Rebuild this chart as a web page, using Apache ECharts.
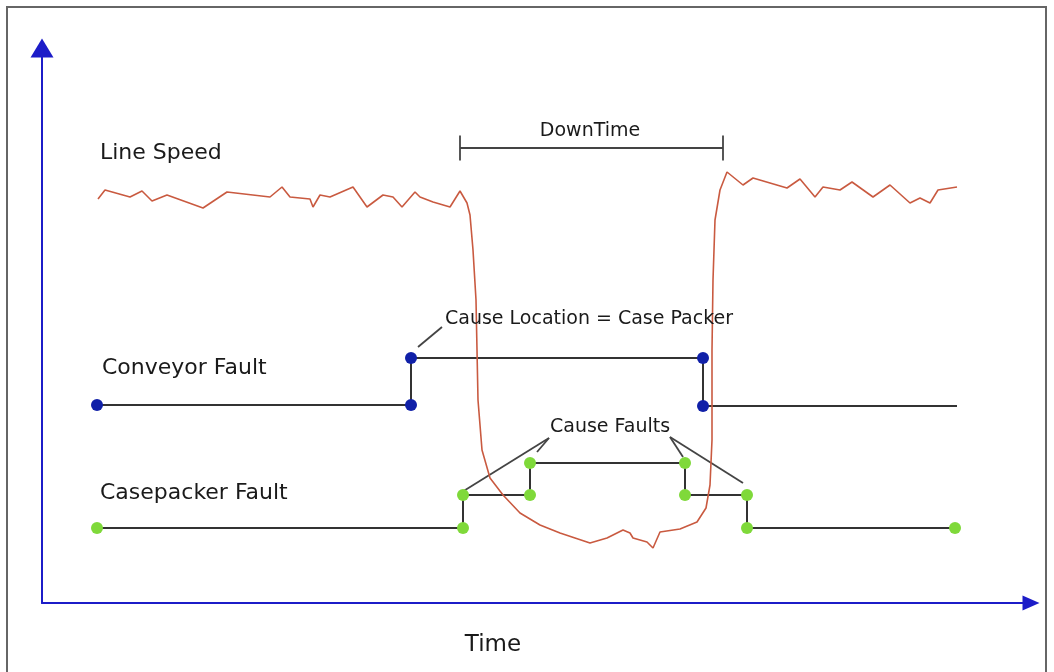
<!DOCTYPE html>
<html lang="en">
<head>
    <meta charset="UTF-8">
    <title>Line Speed / Faults</title>
    <script src="https://cdn.jsdelivr.net/npm/echarts@6/dist/echarts.min.js"></script>
    <style>
        * { padding: 0; margin: 0; }
        body { background: #fff; }
    </style>
</head>
<body>
<div id="chart" style="width: 1054px;height:672px;"></div>
<script>
    // time axis units, level axis units
    var speedTime  = [5.6, 6.3, 8.8, 10.0, 11.0, 12.5, 16.1, 18.5, 22.8, 24.0, 24.8, 26.8, 27.1, 27.8, 28.8, 31.1, 32.5, 34.1, 35.1, 36.0, 37.3, 37.8, 39.1, 40.8, 41.8, 42.5,
                      42.8, 43.1, 43.4, 43.6, 44.0, 44.8, 46.1, 47.8, 49.8, 51.8, 54.8, 56.5, 58.1, 58.8, 59.1, 60.5, 61.1, 61.8, 63.8, 65.5, 66.4, 66.8,
                      67.0, 67.0, 67.1, 67.3, 67.8, 68.5, 70.1, 71.1, 74.5, 75.8, 77.3, 78.1, 79.8, 81.0, 83.1, 84.8, 86.8, 87.8, 88.8, 89.6, 91.5];
    var speedLevel = [40.4, 41.3, 40.6, 41.2, 40.2, 40.8, 39.5, 41.1, 40.6, 41.6, 40.6, 40.4, 39.6, 40.8, 40.6, 41.6, 39.6, 40.8, 40.6, 39.6, 41.1, 40.6, 40.1, 39.6, 41.2, 40.0,
                      38.8, 35.3, 30.3, 20.3, 15.3, 12.5, 10.8, 9.0, 7.8, 7.0, 6.0, 6.5, 7.3, 7.0, 6.5, 6.1, 5.5, 7.1, 7.4, 8.1, 9.5, 11.8,
                      16.3, 25.3, 32.3, 38.3, 41.3, 43.1, 41.8, 42.5, 41.5, 42.4, 40.6, 41.6, 41.3, 42.1, 40.6, 41.8, 40.0, 40.5, 40.0, 41.3, 41.6];

    var conveyorTime  = [5.5, 36.9, 36.9, 66.1, 66.1, 91.5];
    var conveyorLevel = [19.8, 19.8, 24.5, 24.5, 19.7, 19.7];

    var casepackerTime  = [5.5, 42.1, 42.1, 48.8, 48.8, 64.3, 64.3, 70.5, 70.5, 91.3];
    var casepackerLevel = [7.5, 7.5, 10.8, 10.8, 14.0, 14.0, 10.8, 10.8, 7.5, 7.5];

    var noteText  = ['Line Speed', 'Conveyor Fault', 'Casepacker Fault', 'Time', 'DownTime', 'Cause Location = Case Packer', 'Cause Faults'];
    var noteTime  = [5.8, 6.0, 5.8, 45.1, 54.8, 40.3, 50.8];
    var noteLevel = [45.0, 23.5, 11.0, -4.2, 47.2, 28.4, 17.6];

    // [time1, level1, time2, level2]
    var leaderLines = [
        [37.6, 25.6, 40.0, 27.6],
        [42.0, 11.1, 50.7, 16.5],
        [49.5, 15.1, 50.7, 16.5],
        [64.1, 14.6, 62.8, 16.6],
        [70.1, 12.0, 62.8, 16.6]
    ];
    var downTimeStart = 41.8, downTimeEnd = 68.1, downTimeLevel = 45.5, downTimeTick = 1.25;

    var noteStyle = {
        'Line Speed': {size: 22, align: 'left'},
        'Conveyor Fault': {size: 22, align: 'left'},
        'Casepacker Fault': {size: 22, align: 'left'},
        'Time': {size: 23, align: 'center'},
        'DownTime': {size: 19, align: 'center'},
        'Cause Location = Case Packer': {size: 19, align: 'left'},
        'Cause Faults': {size: 19, align: 'left'}
    };

    var zip = function (a, b) { return a.map(function (v, i) { return [v, b[i]]; }); };

    var bracket = [
        [[downTimeStart, downTimeLevel], [downTimeEnd, downTimeLevel]],
        [[downTimeStart, downTimeLevel + downTimeTick], [downTimeStart, downTimeLevel - downTimeTick]],
        [[downTimeEnd, downTimeLevel + downTimeTick], [downTimeEnd, downTimeLevel - downTimeTick]]
    ];

    var axisBlue = '#1c1cc8';
    var chart = echarts.init(document.getElementById('chart'));
    var option = {
        animation: false,
        backgroundColor: '#fff',
        textStyle: {fontFamily: 'DejaVu Sans'},
        graphic: [{
            type: 'rect',
            shape: {x: 7, y: 7, width: 1039, height: 680},
            style: {fill: 'none', stroke: '#666', lineWidth: 2}
        }],
        grid: {left: 42, right: 23, top: 48, bottom: 69},
        xAxis: {
            type: 'value', min: 0, max: 98.9,
            axisLine: {show: true, onZero: false, symbol: ['none', 'triangle'], symbolSize: [15, 17], lineStyle: {color: axisBlue, width: 2}},
            axisTick: {show: false}, axisLabel: {show: false}, splitLine: {show: false}
        },
        yAxis: {
            type: 'value', min: 0, max: 55.5,
            axisLine: {show: true, onZero: false, symbol: ['none', 'triangle'], symbolSize: [23, 19], lineStyle: {color: axisBlue, width: 2}},
            axisTick: {show: false}, axisLabel: {show: false}, splitLine: {show: false}
        },
        series: [{
            name: 'Conveyor Fault',
            type: 'line',
            data: zip(conveyorTime, conveyorLevel).map(function (p, i) {
                return i === conveyorTime.length - 1 ? {value: p, symbol: 'none'} : p;
            }),
            symbol: 'circle', symbolSize: 12, showAllSymbol: true,
            lineStyle: {color: '#333', width: 2},
            itemStyle: {color: '#1020a8'},
            z: 3
        }, {
            name: 'Casepacker Fault',
            type: 'line',
            data: zip(casepackerTime, casepackerLevel),
            symbol: 'circle', symbolSize: 12, showAllSymbol: true,
            lineStyle: {color: '#333', width: 2},
            itemStyle: {color: '#7fd93a'},
            z: 3
        }, {
            name: 'Line Speed',
            type: 'line',
            data: zip(speedTime, speedLevel),
            symbol: 'none',
            lineStyle: {color: '#c95a40', width: 1.6},
            z: 4
        }, {
            name: 'leaders',
            type: 'lines',
            coordinateSystem: 'cartesian2d',
            data: leaderLines.map(function (l) { return {coords: [[l[0], l[1]], [l[2], l[3]]]}; })
                .concat(bracket.map(function (c) { return {coords: c}; })),
            lineStyle: {color: '#444', width: 1.8, opacity: 1},
            silent: true,
            z: 2
        }, {
            name: 'notes',
            type: 'scatter',
            clip: false,
            symbolSize: 0,
            itemStyle: {opacity: 1},
            data: noteText.map(function (t, i) {
                var s = noteStyle[t];
                return {
                    value: [noteTime[i], noteLevel[i]],
                    label: {
                        show: true, position: [0, 0], formatter: t,
                        align: s.align, verticalAlign: 'middle',
                        fontSize: s.size, color: '#1a1a1a', fontFamily: 'DejaVu Sans'
                    }
                };
            }),
            silent: true,
            z: 5
        }]
    };
    chart.setOption(option);
</script>
</body>
</html>
